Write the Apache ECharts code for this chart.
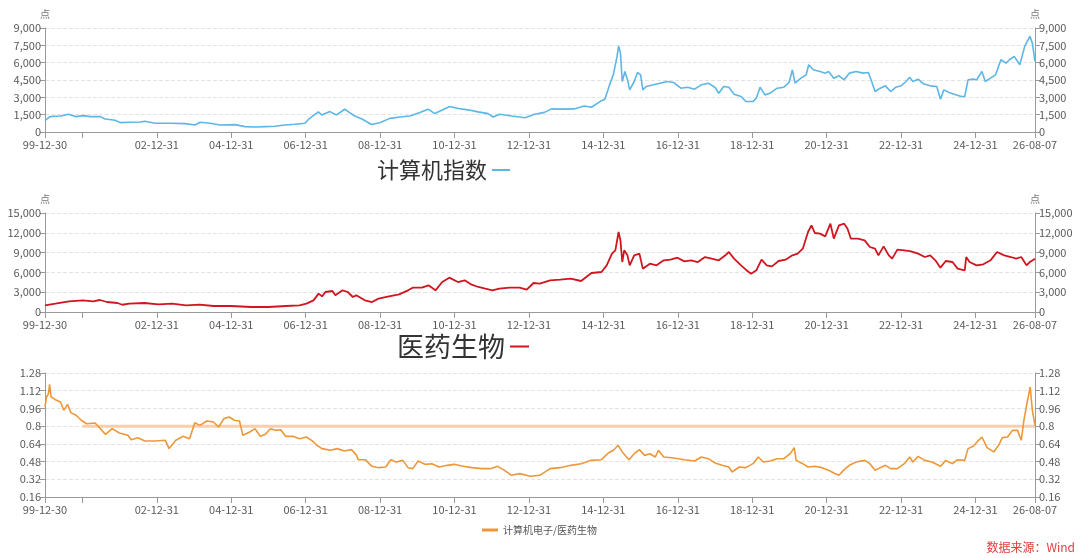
<!DOCTYPE html>
<html lang="zh-CN">
<head>
<meta charset="UTF-8" />
<title>计算机指数 / 医药生物</title>
<script src="https://cdn.jsdelivr.net/npm/echarts@6.0.0/dist/echarts.min.js"></script>
<style>html,body{margin:0;padding:0;background:#fff}</style>
</head>
<body>
<div id="main" style="width:1080px;height:558px"></div>
<script type="text/javascript">
// axis range + ticks
const startDate = "1999-12-30";
const endDate = "2026-08-07";
const tickDates = ["1999-12-30", "2000-12-31", "2002-12-31", "2004-12-31", "2006-12-31", "2008-12-31", "2010-12-31",
  "2012-12-31", "2014-12-31", "2016-12-31", "2018-12-31", "2020-12-31", "2022-12-31", "2024-12-31", "2026-08-07"];
const labelDates = ["1999-12-30", "2002-12-31", "2004-12-31", "2006-12-31", "2008-12-31", "2010-12-31",
  "2012-12-31", "2014-12-31", "2016-12-31", "2018-12-31", "2020-12-31", "2022-12-31", "2024-12-31", "2026-08-07"];

// 计算机指数 (点)
const compDates = ["1999-12-30","2000-02-16","2000-05-26","2000-08-19","2000-10-23","2001-01-11","2001-03-18","2001-06-24",
  "2001-08-11","2001-11-17","2002-01-05","2002-04-12","2002-07-20","2002-09-06","2002-12-13","2003-05-11","2003-10-05",
  "2004-01-11","2004-02-28","2004-06-06","2004-09-13","2005-02-06","2005-05-16","2005-08-22","2005-11-28","2006-03-04",
  "2006-06-10","2006-09-17","2006-12-24","2007-02-09","2007-05-05","2007-06-07","2007-08-26","2007-10-30","2008-01-19",
  "2008-03-10","2008-04-27","2008-07-01","2008-10-09","2008-12-28","2009-04-06","2009-07-13","2009-10-19","2010-01-26",
  "2010-04-16","2010-06-21","2010-11-14","2011-02-06","2011-05-12","2011-08-19","2011-11-25","2012-01-15","2012-03-18",
  "2012-07-13","2012-11-21","2013-02-24","2013-06-02","2013-08-08","2013-10-31","2014-03-18","2014-06-27","2014-09-05",
  "2014-11-28","2015-01-15","2015-03-08","2015-04-08","2015-05-15","2015-05-30","2015-06-17","2015-07-05","2015-07-31",
  "2015-08-25","2015-09-16","2015-10-30","2015-12-02","2016-01-01","2016-01-23","2016-02-25","2016-05-05","2016-07-09",
  "2016-09-16","2016-11-22","2017-01-30","2017-04-06","2017-06-14","2017-08-19","2017-10-27","2018-01-01","2018-02-06",
  "2018-03-26","2018-05-16","2018-07-06","2018-09-13","2018-10-30","2019-01-08","2019-02-10","2019-03-18","2019-05-05",
  "2019-06-25","2019-09-02","2019-11-07","2019-12-28","2020-01-30","2020-02-24","2020-04-23","2020-06-13","2020-07-08",
  "2020-08-22","2020-10-27","2020-12-17","2021-01-19","2021-03-11","2021-05-01","2021-06-21","2021-08-11","2021-10-16",
  "2021-12-24","2022-02-13","2022-03-18","2022-04-20","2022-06-10","2022-07-31","2022-09-20","2022-11-10","2022-12-31",
  "2023-02-17","2023-03-26","2023-04-27","2023-06-17","2023-08-08","2023-10-13","2023-12-17","2024-01-22","2024-02-24",
  "2024-04-16","2024-06-06","2024-08-14","2024-09-16","2024-10-19","2024-12-09","2025-01-11","2025-03-04","2025-04-06",
  "2025-05-27","2025-07-16","2025-09-06","2025-10-27","2025-11-29","2026-01-15","2026-03-11","2026-04-28","2026-06-18",
  "2026-07-12","2026-08-07"];
const compValues = [984,1331,1389,1534,1331,1418,1331,1331,
  1129,1013,810,839,868,926,752,752,723,
  608,839,752,608,637,463,434,463,492,
  608,666,752,1187,1736,1476,1765,1476,1968,
  1650,1389,1150,649,797,1180,1298,1387,1682,
  1977,1593,2213,2036,1918,1741,1593,1298,1534,
  1387,1239,1534,1700,2000,1977,1997,2257,2142,
  2634,2836,4225,4949,6540,7450,6830,4370,5238,
  4515,3646,4370,5151,4949,3646,3936,4081,4225,
  4370,4283,3791,3878,3704,4081,4225,3849,3357,
  3936,3878,3270,3068,2634,2634,2923,3878,3212,
  3357,3791,3878,4283,5383,4225,4659,4949,5817,
  5383,5238,5093,5238,4659,4862,4515,5093,5238,
  5093,5151,4370,3502,3791,3994,3502,3878,3994,
  4370,4746,4370,4573,4167,3994,3936,2836,3646,
  3415,3270,3068,3068,4515,4573,4515,5238,4370,
  4659,4949,6251,5962,6251,6540,5817,7409,8277,
  7698,6106];

// 医药生物 (点)
const mediDates = ["1999-12-30","2000-04-10","2000-08-22","2001-01-05","2001-04-16","2001-06-21","2001-08-29","2001-12-09",
  "2002-01-27","2002-04-05","2002-09-02","2003-01-15","2003-05-31","2003-10-15","2004-02-24","2004-07-09","2004-12-28",
  "2005-07-16","2006-01-01","2006-06-21","2006-10-31","2007-01-08","2007-03-18","2007-05-08","2007-06-10","2007-07-13",
  "2007-09-20","2007-10-19","2007-12-28","2008-02-17","2008-04-08","2008-05-11","2008-08-04","2008-10-12","2008-12-16",
  "2009-03-28","2009-07-06","2009-10-01","2009-11-17","2010-02-14","2010-04-20","2010-06-28","2010-09-02","2010-11-10",
  "2011-02-03","2011-04-10","2011-06-18","2011-08-22","2011-10-30","2012-01-08","2012-03-14","2012-06-24","2012-10-01",
  "2012-12-09","2013-02-14","2013-04-16","2013-07-27","2013-11-03","2014-02-14","2014-05-27","2014-09-05","2014-12-13",
  "2015-02-02","2015-03-26","2015-04-28","2015-05-30","2015-06-17","2015-07-05","2015-07-24","2015-08-25","2015-09-16",
  "2015-10-30","2015-12-20","2016-01-23","2016-04-01","2016-06-06","2016-08-15","2016-10-20","2016-12-28","2017-03-05",
  "2017-05-11","2017-07-16","2017-09-24","2017-11-29","2018-02-06","2018-04-12","2018-05-16","2018-07-06","2018-09-13",
  "2018-10-30","2018-12-20","2019-02-10","2019-04-02","2019-05-23","2019-07-13","2019-09-16","2019-11-24","2020-01-30",
  "2020-03-21","2020-05-11","2020-07-01","2020-08-04","2020-09-06","2020-10-27","2020-12-17","2021-02-06","2021-03-11",
  "2021-05-01","2021-06-21","2021-07-24","2021-08-26","2021-11-03","2022-01-08","2022-02-28","2022-04-20","2022-05-23",
  "2022-07-13","2022-09-02","2022-10-05","2022-11-25","2023-02-02","2023-04-09","2023-06-17","2023-08-22","2023-10-13",
  "2023-12-03","2024-01-22","2024-03-14","2024-05-19","2024-07-09","2024-09-16","2024-10-01","2024-11-03","2025-01-11",
  "2025-03-18","2025-05-27","2025-07-31","2025-10-09","2025-12-13","2026-02-03","2026-03-25","2026-05-16","2026-06-18",
  "2026-08-07"];
const mediValues = [1010,1263,1616,1768,1616,1818,1515,1364,
  1100,1263,1364,1162,1263,1010,1111,909,909,
  758,758,909,1010,1263,1768,2778,2374,3030,
  3182,2525,3283,3030,2273,2525,1768,1515,2020,
  2374,2677,3283,3687,3687,4040,3283,4545,5202,
  4545,4798,4141,3788,3535,3283,3535,3687,3687,
  3384,4394,4300,4798,4899,5050,4697,5909,6060,
  7070,8838,9343,12120,10858,7575,9343,8585,7070,
  8585,8838,6565,7323,7070,7828,7929,8232,7676,
  7828,7575,8333,8080,7828,8585,9090,8080,7070,
  6414,5808,6313,7929,7070,6919,7727,7929,8585,
  8838,9595,12120,13130,11969,11868,11464,13383,11110,
  13130,13383,12625,11110,11110,10858,9848,9595,8585,
  9949,8585,8080,9444,9343,9191,8838,8333,8585,
  7828,6717,7727,7575,6565,6313,8333,7575,7070,
  7222,7828,9090,8585,8333,8080,8333,7070,7575,
  8080];

// 计算机电子/医药生物
const ratioDates = ["1999-12-30","2000-01-14","2000-02-02","2000-02-13","2000-02-28","2000-04-10","2000-05-30","2000-07-01",
  "2000-08-07","2000-09-09","2000-10-30","2000-12-20","2001-02-10","2001-05-05","2001-06-25","2001-08-15","2001-10-20",
  "2001-12-28","2002-03-22","2002-04-24","2002-06-28","2002-09-06","2002-12-16","2003-03-25","2003-05-01","2003-07-06",
  "2003-09-13","2003-11-18","2004-01-08","2004-02-28","2004-05-05","2004-07-09","2004-08-29","2004-10-20","2004-12-10",
  "2005-01-30","2005-03-22","2005-04-24","2005-07-01","2005-08-22","2005-10-12","2005-12-02","2006-01-19","2006-03-11",
  "2006-05-01","2006-06-17","2006-08-26","2006-11-03","2007-01-08","2007-02-28","2007-04-20","2007-06-10","2007-09-02",
  "2007-11-07","2008-01-15","2008-03-25","2008-05-15","2008-05-30","2008-08-08","2008-10-12","2008-12-16","2009-02-24",
  "2009-04-16","2009-06-06","2009-08-11","2009-10-01","2009-11-17","2010-01-08","2010-03-18","2010-05-23","2010-07-31",
  "2010-10-23","2010-12-28","2011-03-26","2011-06-18","2011-09-27","2011-12-20","2012-02-28","2012-05-05","2012-07-13",
  "2012-10-01","2013-01-12","2013-04-16","2013-07-27","2013-11-03","2014-02-14","2014-05-27","2014-09-05","2014-12-13",
  "2015-02-17","2015-04-08","2015-05-26","2015-07-05","2015-09-09","2015-10-30","2015-12-20","2016-02-10","2016-04-01",
  "2016-05-23","2016-06-24","2016-08-15","2016-11-22","2017-03-05","2017-06-14","2017-08-19","2017-10-27","2018-01-01",
  "2018-03-11","2018-05-16","2018-06-17","2018-08-26","2018-10-30","2019-01-08","2019-02-28","2019-04-20","2019-06-25",
  "2019-09-02","2019-11-07","2020-01-08","2020-02-17","2020-03-07","2020-05-11","2020-07-01","2020-09-06","2020-11-14",
  "2021-01-19","2021-03-11","2021-05-01","2021-06-21","2021-08-11","2021-10-16","2022-01-08","2022-02-28","2022-04-20",
  "2022-06-10","2022-07-31","2022-09-20","2022-11-25","2023-02-02","2023-03-26","2023-04-27","2023-06-17","2023-08-22",
  "2023-10-30","2024-01-22","2024-03-14","2024-05-19","2024-07-09","2024-09-16","2024-10-19","2024-12-09","2025-01-30",
  "2025-03-04","2025-04-24","2025-06-28","2025-08-15","2025-09-20","2025-11-10","2025-12-28","2026-02-17","2026-03-25",
  "2026-04-20","2026-05-16","2026-05-30","2026-06-21","2026-07-12","2026-08-07"];
const ratioValues = [0.973,1.063,1.093,1.178,1.063,1.039,1.018,0.943,
  0.997,0.922,0.898,0.853,0.822,0.828,0.777,0.726,0.777,
  0.738,0.717,0.678,0.696,0.666,0.666,0.672,0.597,0.672,
  0.708,0.687,0.831,0.807,0.846,0.837,0.792,0.868,0.883,
  0.853,0.846,0.717,0.747,0.777,0.708,0.726,0.777,0.762,
  0.768,0.708,0.708,0.687,0.702,0.672,0.627,0.597,0.582,
  0.597,0.576,0.588,0.536,0.497,0.497,0.437,0.425,0.431,
  0.497,0.476,0.491,0.425,0.416,0.485,0.455,0.461,0.431,
  0.446,0.455,0.437,0.425,0.416,0.416,0.437,0.401,0.356,
  0.371,0.347,0.356,0.416,0.425,0.446,0.461,0.491,0.497,
  0.557,0.582,0.627,0.567,0.497,0.551,0.588,0.536,0.551,
  0.521,0.582,0.521,0.512,0.497,0.485,0.521,0.506,0.467,
  0.446,0.431,0.386,0.431,0.425,0.461,0.521,0.476,0.485,
  0.506,0.506,0.551,0.606,0.491,0.461,0.431,0.437,0.425,
  0.401,0.377,0.356,0.407,0.446,0.476,0.491,0.461,0.401,
  0.425,0.446,0.416,0.416,0.461,0.521,0.476,0.527,0.491,
  0.476,0.437,0.491,0.461,0.497,0.491,0.597,0.618,0.672,
  0.702,0.606,0.567,0.627,0.696,0.702,0.762,0.762,0.672,
  0.853,0.985,0.973,1.154,0.943,0.807];

// 0.8 参考线
const refDates = ["2000-12-31", "2026-08-07"];
const refValues = [0.8, 0.8];

function ts(d) {
  const p = d.split("-");
  return Date.UTC(+p[0], +p[1] - 1, +p[2]);
}
function pad(n) { return n < 10 ? "0" + n : "" + n; }
function fmtDate(v) {
  const d = new Date(v);
  return pad(d.getUTCFullYear() % 100) + "-" + pad(d.getUTCMonth() + 1) + "-" + pad(d.getUTCDate());
}
function pairs(dates, values) {
  return dates.map((d, i) => [ts(d), values[i]]);
}

const axisColor = "#9a9a9a";
const labelColor = "#595959";

function xAxisFor(gridIndex) {
  return {
    type: "value",
    gridIndex: gridIndex,
    min: ts(startDate),
    max: ts(endDate),
    axisLine: { lineStyle: { color: axisColor } },
    axisTick: { length: 6, lineStyle: { color: axisColor }, customValues: tickDates.map(ts) },
    axisLabel: { customValues: labelDates.map(ts), formatter: fmtDate, color: labelColor, fontSize: 11, margin: 7 },
    splitLine: { show: false }
  };
}

function yAxisFor(gridIndex, pos, min, max, interval, fmt, name) {
  return {
    type: "value",
    gridIndex: gridIndex,
    position: pos,
    min: min,
    max: max,
    interval: interval,
    name: name,
    nameGap: 9,
    nameTextStyle: { color: "#777", fontSize: 10 },
    axisLine: { show: true, lineStyle: { color: axisColor } },
    axisTick: { show: true, length: 5, lineStyle: { color: axisColor } },
    axisLabel: { formatter: fmt, color: labelColor, fontSize: 11, margin: 4 },
    splitLine: { show: pos === "left", lineStyle: { type: "dashed", color: "#e3e3e3" } }
  };
}

const thousands = v => v.toLocaleString("en-US");
const ratioFmt = v => String(+v.toFixed(2));

const chart = echarts.init(document.getElementById("main"));
chart.setOption({
  animation: false,
  textStyle: { fontFamily: '"Noto Sans CJK SC", "Noto Sans", sans-serif' },
  grid: [
    { left: 45, right: 45, top: 28, height: 104 },
    { left: 45, right: 45, top: 213, height: 99 },
    { left: 45, right: 45, top: 373, height: 124 }
  ],
  xAxis: [xAxisFor(0), xAxisFor(1), xAxisFor(2)],
  yAxis: [
    yAxisFor(0, "left", 0, 9000, 1500, thousands, "点"),
    yAxisFor(0, "right", 0, 9000, 1500, thousands, "点"),
    yAxisFor(1, "left", 0, 15000, 3000, thousands, "点"),
    yAxisFor(1, "right", 0, 15000, 3000, thousands, "点"),
    yAxisFor(2, "left", 0.16, 1.28, 0.16, ratioFmt, ""),
    yAxisFor(2, "right", 0.16, 1.28, 0.16, ratioFmt, "")
  ],
  legend: [
    {
      data: ["计算机指数"], left: 372, top: 154, align: "right", icon: "rect",
      itemWidth: 18, itemHeight: 2, selectedMode: false,
      textStyle: { fontSize: 22, color: "#333" }
    },
    {
      data: ["医药生物"], left: 392, top: 328, align: "right", icon: "rect",
      itemWidth: 19, itemHeight: 2, selectedMode: false,
      textStyle: { fontSize: 27, color: "#333" }
    },
    {
      data: ["计算机电子/医药生物"], left: 477, top: 520, icon: "rect",
      itemWidth: 16, itemHeight: 3, itemGap: 5, selectedMode: false,
      textStyle: { fontSize: 10, color: "#555" }
    }
  ],
  graphic: [
    {
      type: "text", right: 5, top: 541,
      style: { text: "数据来源：Wind", fill: "#e0403c", fontSize: 12, fontFamily: '"Noto Sans CJK SC", sans-serif' }
    }
  ],
  series: [
    {
      name: "计算机指数", type: "line", xAxisIndex: 0, yAxisIndex: 0, showSymbol: false,
      color: "#5cb6e6", lineStyle: { width: 1.6 }, data: pairs(compDates, compValues)
    },
    {
      name: "医药生物", type: "line", xAxisIndex: 1, yAxisIndex: 2, showSymbol: false,
      color: "#d2141f", lineStyle: { width: 1.8 }, data: pairs(mediDates, mediValues)
    },
    {
      name: "0.8", type: "line", xAxisIndex: 2, yAxisIndex: 4, showSymbol: false, z: 1,
      color: "#f9ceac", lineStyle: { width: 3 }, data: pairs(refDates, refValues)
    },
    {
      name: "计算机电子/医药生物", type: "line", xAxisIndex: 2, yAxisIndex: 4, showSymbol: false, z: 3,
      color: "#ee9738", lineStyle: { width: 1.6 }, data: pairs(ratioDates, ratioValues)
    }
  ]
});
</script>
</body>
</html>
